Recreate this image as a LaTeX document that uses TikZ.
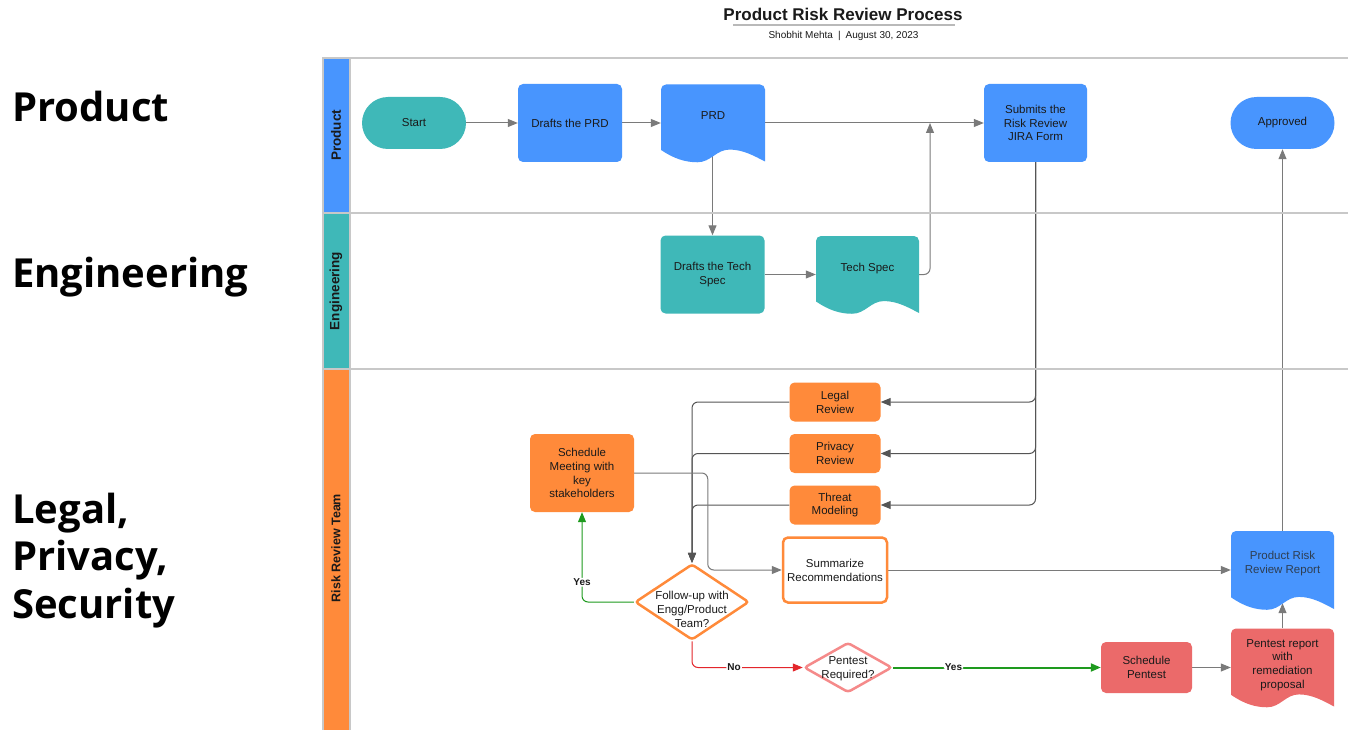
\documentclass[tikz,border=0pt]{standalone}
\usepackage{fontspec}
\setmainfont{Liberation Sans}
\newfontfamily\bigfont{Open Sans}
\usetikzlibrary{shapes.geometric,arrows.meta,calc}
\pgfdeclarelayer{back}
\pgfdeclarelayer{bg}
\pgfsetlayers{back,bg,main}
\definecolor{cblue}{HTML}{4895FE}
\definecolor{cteal}{HTML}{3FB8B8}
\definecolor{corange}{HTML}{FF8A3A}
\definecolor{cred}{HTML}{EB6A6A}
\definecolor{cpink}{HTML}{F58A8A}
\definecolor{cgreen}{HTML}{1E9A1E}
\definecolor{credline}{HTML}{E3262B}
\definecolor{cline}{HTML}{7A7A7A}
\definecolor{cdark}{HTML}{555555}
\definecolor{lanegray}{HTML}{C8C8C8}
\definecolor{txt}{HTML}{1A1A1A}
\definecolor{prrtxt}{HTML}{2E3E52}
\newcommand\dgmfont{\fontsize{11.5}{13.8}\selectfont}
\newcommand\docup[2]{\raisebox{0pt}[\height][\dimexpr\depth+#1\relax]{\begin{tabular}{@{}c@{}}#2\end{tabular}}}
\newcommand\zbox[2]{\raisebox{#1}[0pt][0pt]{\makebox[0pt]{\begin{tabular}{@{}c@{}}#2\end{tabular}}}}
\newcommand\docshape[5]{%
  \fill[#5] ({#1},{#2+0.85*#4}) [rounded corners=5pt]-- ({#1},{#2}) -- ({#1+#3},{#2}) [sharp corners]-- ({#1+#3},{#2+#4})
    .. controls ({#1+0.9*#3},{#2+0.93*#4}) and ({#1+0.79*#3},{#2+0.845*#4}) .. ({#1+0.66*#3},{#2+0.845*#4})
    .. controls ({#1+0.53*#3},{#2+0.845*#4}) and ({#1+0.48*#3},{#2+1.01*#4}) .. ({#1+0.35*#3},{#2+1.01*#4})
    .. controls ({#1+0.23*#3},{#2+1.01*#4}) and ({#1+0.12*#3},{#2+0.96*#4}) .. cycle;}
\tikzset{
  box/.style={rectangle, rounded corners=5pt, draw=none, align=center, font=\dgmfont, text=txt, inner sep=2pt},
  term/.style={rectangle, rounded corners=26pt, draw=none, align=center, font=\dgmfont, text=txt, minimum width=104pt, minimum height=52pt},
  docnode/.style={rectangle, draw=none, inner sep=0pt, font=\dgmfont, text=txt},
  dia/.style={diamond, font=\dgmfont, text=txt, fill=white, line width=2.5pt, rounded corners=3pt, inner sep=0pt},
  lanetxt/.style={rotate=90, font=\fontsize{13.5}{16}\selectfont\bfseries, text=txt},
  biglbl/.style={font=\bigfont\bfseries\fontsize{40}{47.5}\selectfont, text=black, align=left, inner sep=0pt},
  flow/.style={draw=cline, line width=1pt, -{Triangle[length=10pt,width=8pt]}, rounded corners=6pt},
  flowdark/.style={flow, draw=cdark},
  gflow/.style={flow, draw=cgreen},
  rflow/.style={flow, draw=credline},
  lbl/.style={fill=white, inner sep=1pt, font=\fontsize{10}{12}\selectfont\bfseries, text=txt}
}
\begin{document}
\begin{tikzpicture}[x=1pt, y=-1pt]
\useasboundingbox (0,0) rectangle (1348,730);
\begin{pgfonlayer}{back}
\fill[white] (0,0) rectangle (1348,730);
\end{pgfonlayer}

% title
\node[font=\fontsize{17}{20}\selectfont\bfseries, text=txt] (title) at (843,14) {Product Risk Review Process};
\draw[gray!55, line width=1.5pt] (733,25) -- (955,25);
\node[font=\fontsize{10}{12}\selectfont, text=txt] (subtitle) at (843.5,36) {Shobhit Mehta\enspace|\enspace August 30, 2023};

% left labels
\node[biglbl, anchor=base west] (lprod) at (12,122) {Product};
\node[biglbl, anchor=base west] (leng) at (12,287) {Engineering};
\node[biglbl, anchor=base west] (lrisk) at (12,618) {Legal,\\Privacy,\\Security};

% lanes
\fill[cblue] (323,58) rectangle (350,213);
\fill[cteal] (323,213) rectangle (350,369);
\fill[corange] (323,369) rectangle (350,731);
\draw[lanegray, line width=2pt] (1349,58) -- (323,58) -- (323,731);
\draw[lanegray, line width=2pt] (350,58) -- (350,731);
\draw[lanegray, line width=2pt] (323,213) -- (1349,213);
\draw[lanegray, line width=2pt] (323,369) -- (1349,369);
\node[lanetxt] (hprod) at (336,135.5) {Product};
\node[lanetxt] (heng) at (336,291) {Engineering};
\node[lanetxt, font=\fontsize{12.5}{15}\selectfont\bfseries] (hrisk) at (336,548) {Risk Review Team};

% product lane
\node[term, fill=cteal] (start) at (414,123) {Start};
\node[box, fill=cblue, minimum width=104pt, minimum height=78pt] (dprd) at (570,123) {Drafts the PRD};
\docshape{661}{84.5}{104}{77}{cblue}
\node[docnode, minimum width=104pt, minimum height=77pt] (prd) at (713,123) {\docup{12pt}{PRD}};
\node[box, fill=cblue, minimum width=103pt, minimum height=78pt] (sub) at (1035.5,123) {Submits the\\Risk Review\\JIRA Form};
\node[term, fill=cblue] (app) at (1282.5,123) {Approved};

% engineering lane
\node[box, fill=cteal, minimum width=104pt, minimum height=78pt] (dts) at (712.5,274.5) {Drafts the Tech\\Spec};
\docshape{816}{236}{103}{77}{cteal}
\node[docnode, minimum width=103pt, minimum height=77pt] (ts) at (867.5,274.5) {\docup{11pt}{Tech Spec}};

% risk lane
\node[box, fill=corange, minimum width=91pt, minimum height=39pt] (legal) at (835,402) {Legal\\Review};
\node[box, fill=corange, minimum width=91pt, minimum height=39pt] (priv) at (835,453.5) {Privacy\\Review};
\node[box, fill=corange, minimum width=91pt, minimum height=39pt] (threat) at (835,505) {Threat\\Modeling};
\node[box, fill=corange, minimum width=104pt, minimum height=78pt] (sm) at (582,473) {Schedule\\Meeting with\\key\\stakeholders};
\node[box, fill=white, draw=corange, line width=2.5pt, minimum width=104pt, minimum height=65pt] (summ) at (835,570) {Summarize\\Recommendations};
\node[dia, draw=corange, minimum width=114pt, minimum height=76pt] (fu) at (692,602) {\zbox{-11.5pt}{Follow-up with\\Engg/Product\\Team?}};
\node[dia, draw=cpink, minimum width=88pt, minimum height=50pt] (pd) at (848,667.5) {\zbox{-4pt}{Pentest\\Required?}};
\node[box, fill=cred, minimum width=91pt, minimum height=51pt] (sp) at (1146.5,667.5) {Schedule\\Pentest};
\docshape{1231}{628.5}{103}{78}{cred}
\node[docnode, minimum width=103pt, minimum height=78pt] (pr) at (1282.5,667.5) {\docup{5pt}{Pentest report\\with\\remediation\\proposal}};
\docshape{1231}{531}{103}{78}{cblue}
\node[docnode, text=prrtxt, minimum width=103pt, minimum height=78pt] (prr) at (1282.5,570) {\docup{12pt}{Product Risk\\Review Report}};

% connectors
\begin{pgfonlayer}{bg}
\draw[flow] (start.east) -- (dprd.west);
\draw[flow] (dprd.east) -- (prd.west);
\draw[flow] (prd.east) -- (sub.west);
\draw[flow] (dts.north |- prd.center) -- (dts.north);
\draw[flow] (dts.east) -- (ts.west);
\coordinate (join) at (930,123);
\draw[flow] (ts.east) -| (join);
\draw[flowdark] (sub.south) |- (legal.east);
\draw[flowdark] (sub.south) |- (priv.east);
\draw[flowdark] (sub.south) |- (threat.east);
\draw[flowdark] (legal.west) -| (fu.north);
\draw[flowdark] (priv.west) -| (fu.north);
\draw[flowdark] (threat.west) -| (fu.north);
\draw[flow] (sm.east) -| ($(summ.west)+(-74,0)$) -- (summ.west);
\draw[flow] (summ.east) -- (prr.west);
\draw[gflow] (fu.west) -| node[pos=0.61, lbl] (yes1) {Yes} (sm.south);
\draw[rflow] (fu.south) |- node[pos=0.69, lbl] (no1) {No} (pd.west);
\draw[gflow, line width=2pt] (pd.east) -- node[pos=0.29, lbl] (yes2) {Yes} (sp.west);
\draw[flow] (sp.east) -- (pr.west);
\draw[flow] (pr.north) -- ($(prr.south)+(0,-6)$);
\draw[flow] (prr.north) -- (app.south);
\end{pgfonlayer}
\end{tikzpicture}
\end{document}
